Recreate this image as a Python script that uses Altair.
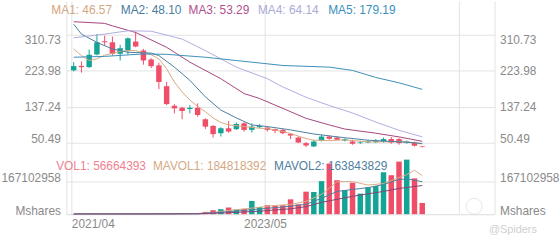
import altair as alt
import pandas as pd

# ---------------- data ----------------
idx = list(range(46))
opens = [225.2, 236.0, 233.1, 263.7, 295.6, 293.2, 265.3, 273.3, 294.9, 273.3,
         251.6, 237.2, 186.8, 139.4, 134.6, 131.5, 134.6, 106.7, 90.6, 73.0,
         85.0, 82.7, 97.0, 81.0, 87.5, 86.5, 82.7, 81.0, 71.4, 62.5,
         49.0, 40.9, 54.6, 64.9, 62.5, 55.3, 52.9, 49.0, 50.5, 51.4,
         52.9, 58.7, 58.7, 50.5, 50.5, 40.9]
closes = [235.5, 233.0, 262.9, 293.2, 293.2, 265.3, 278.8, 302.8, 282.9, 249.2,
          235.5, 197.1, 143.5, 133.2, 126.7, 134.6, 117.0, 88.9, 70.7, 85.0,
          76.9, 95.4, 81.0, 89.0, 90.6, 81.0, 78.6, 73.0, 67.3, 50.5,
          43.3, 52.9, 64.9, 59.4, 57.0, 58.7, 47.4, 50.5, 52.9, 54.6,
          58.7, 50.5, 49.0, 52.9, 42.6, 39.4]
highs = [245.0, 246.8, 275.7, 313.4, 309.3, 306.9, 287.0, 305.0, 318.9, 277.4,
         254.8, 243.7, 197.1, 143.5, 137.0, 141.0, 145.2, 109.1, 93.0, 87.5,
         102.6, 98.6, 99.5, 97.0, 94.7, 89.0, 84.0, 83.4, 73.0, 64.9,
         51.4, 57.0, 69.0, 67.3, 64.9, 60.9, 57.0, 54.6, 57.0, 58.7,
         62.5, 63.5, 61.0, 55.3, 52.9, 41.7]
lows = [222.8, 219.7, 230.7, 261.3, 285.3, 261.3, 249.0, 263.0, 281.2, 238.9,
        230.7, 179.5, 141.1, 121.1, 106.7, 121.0, 113.0, 83.4, 62.5, 64.9,
        74.5, 81.0, 76.9, 74.5, 85.0, 76.9, 73.0, 70.7, 58.7, 49.0,
        39.4, 39.4, 52.9, 57.0, 55.3, 52.9, 45.0, 46.6, 49.0, 49.0,
        50.5, 47.4, 45.0, 47.4, 40.9, 38.5]
volumes = [0.8, 0.6, 1.0, 1.2, 0.8, 1.0, 0.9, 1.1, 1.3, 1.2,
           1.5, 2.0, 3.0, 2.5, 3.5, 3.0, 5.0, 11.5, 20.0, 25.0,
           33.6, 23.0, 27.0, 66.9, 36.0, 45.0, 41.8, 45.0, 75.0, 50.0,
           113.8, 112.0, 167.0, 256.0, 172.0, 122.0, 159.0, 104.0, 137.0, 142.0,
           212.0, 197.0, 266.0, 276.0, 181.0, 56.664393]  # millions of shares

# moving-average lines: (candle index, value)
ma1_pts = [(0, 277), (1, 261), (2, 249), (3, 253), (4, 262), (6, 271), (7, 273), (8, 273),
           (10, 263), (11, 253), (12, 229), (13, 197), (14, 173), (15, 153), (16, 138),
           (17, 125), (18, 110), (19, 99), (20, 93), (22, 89), (24, 85), (25, 84), (27, 77),
           (28, 72), (29, 66), (30, 60), (31, 56), (33, 55), (35, 57), (36, 55), (38, 52),
           (40, 52), (42, 53), (43, 52), (44, 50), (45, 46.57)]
ma2_pts = [(0, 337), (1, 313), (3, 293), (5, 277), (7, 269), (10, 267), (11, 261), (13, 233),
           (15, 201), (17, 161), (19, 129), (21, 110), (23, 93), (25, 89), (28, 81), (31, 71),
           (35, 62), (38, 56), (41, 53), (43, 51), (45, 48.10)]
ma3_pts = [(0, 343), (4, 339), (5, 333), (8, 317), (12, 281), (15, 245), (19, 205), (22, 169),
           (24, 157), (27, 133), (30, 109), (33, 93), (35, 83), (39, 73), (42, 64), (45, 53.29)]
ma4_pts = [(0, 304), (4, 313), (7, 321), (10, 320), (14, 301), (17, 273), (21, 233), (25, 205),
           (27, 185), (30, 160), (33, 140), (36, 122), (39, 100), (42, 80), (45, 64.14)]
ma5_pts = [(0, 257), (4, 259), (9, 265), (12, 264), (17, 257), (21, 249), (27, 237), (33, 233),
           (36, 225), (39, 208), (42, 195), (45, 179.19)]

mavol1_pts = [(0, 1), (10, 1.1), (12, 1.8), (14, 2.6), (16, 3.5), (18, 8.6), (20, 19), (22, 26),
              (24, 35), (26, 44), (28, 49), (30, 65), (32, 100), (33, 132), (34, 164), (36, 165),
              (38, 147), (40, 155), (42, 185), (43, 200), (44, 222), (45, 195)]
mavol2_pts = [(0, 1), (12, 1.3), (16, 2.5), (20, 12), (24, 26), (28, 40), (30, 50), (32, 80),
              (34, 115), (36, 125), (38, 134), (40, 150), (42, 176), (43, 178), (44, 172),
              (45, 163.8)]
mavol3_pts = [(0, 1), (16, 1.5), (20, 7), (24, 15), (28, 27), (30, 38), (32, 60), (34, 75),
              (36, 90), (38, 103), (40, 115), (42, 130), (44, 140), (45, 145)]

price_ticks = [50.49, 137.24, 223.98, 310.73]
vol_tick_values = [0, 167102958]
vol_tick_labels = ["Mshares", "167102958"]
x_tick_pos = [-0.3, 24.7, 49.7]
x_tick_labels = ["2021/04", "2023/05", ""]

ma_names = ["MA1", "MA2", "MA3", "MA4", "MA5"]
ma_last = ["46.57", "48.10", "53.29", "64.14", "179.19"]
vol_legend = [("VOL1", "56664393"), ("MAVOL1", "184818392"), ("MAVOL2", "163843829")]

# ---------------- styles / layout ----------------
RED = "#ef4d68"
GREEN = "#14a496"
MA_COLORS = ["#d8a982", "#4a7e9e", "#a6457e", "#adaee0", "#3b90b8"]
MA_TEXT = ["#d4a77f", "#4a7e9e", "#b0508f", "#a9abd8", "#3b90c0"]
MAVOL_COLORS = ["#d6ac86", "#4f7fa0", "#7f4677"]
VOL_TEXT = ["#ef8190", "#d4aa85", "#4f80a0"]
FONT = "Liberation Sans"
LABEL = "#8a8a8a"
GRID = "#e3e3e3"

PLOT_W, PLOT_H = 432, 215
LEFT, RIGHT = 64, 64
X_LO, X_HI = -0.3, 53.7
PX_PER_I = PLOT_W / (X_HI - X_LO)

# legend anchors in page pixels, converted to the x scale's units
MA_TEXT_PX = [43.3, 115, 185, 256.7, 329.3]
VOL_TEXT_PX = [48.3, 148.3, 273.3]


def px_to_i(px):
    return X_LO + (px - LEFT) / PX_PER_I


# one shared y scale: price pane on top, volume pane mapped into the bottom strip
P_LO, P_HI = -123.08, 393.08          # price domain over the full height
V_HI = 1078.9e6                        # volume that would reach the top edge
K = (P_HI - P_LO) / V_HI               # price units per share


def vol_to_y(v):
    return P_LO + v * K


# ---------------- frames ----------------
candles = pd.DataFrame({"i": idx, "open": opens, "close": closes, "high": highs,
                        "low": lows, "vol": [v * 1e6 for v in volumes]})
candles["dir"] = ["up" if c >= o else "down" for o, c in zip(opens, closes)]

# ---------------- axes ----------------
x_label_expr = " : ".join(
    [f"abs(datum.value - ({p})) < 0.01 ? '{l}'" for p, l in zip(x_tick_pos, x_tick_labels)]
) + " : ''"
x_enc = alt.X("i:Q", scale=alt.Scale(domain=[X_LO, X_HI], nice=False, zero=False),
              axis=alt.Axis(values=x_tick_pos, labelExpr=x_label_expr, title=None,
                            grid=True, gridColor=GRID, domainColor=GRID, ticks=False,
                            tickSize=0, labelPadding=4,
                            labelAlign={"condition": {"test": "datum.value < 0", "value": "left"},
                                        "value": "center"},
                            labelFont=FONT, labelFontSize=12, labelColor=LABEL))

y_tick_pos = price_ticks + [vol_to_y(v) for v in vol_tick_values]
y_tick_txt = [f"{p:.2f}" for p in price_ticks] + vol_tick_labels
y_label_expr = " : ".join(
    [f"abs(datum.value - ({p})) < 0.01 ? '{l}'" for p, l in zip(y_tick_pos, y_tick_txt)]
) + " : ''"
y_scale = alt.Scale(domain=[P_LO, P_HI], nice=False, zero=False)
baseline_cond = {"condition": [{"test": "datum.value > 300", "value": "top"},
                               {"test": "datum.value < 60", "value": "alphabetic"}],
                 "value": "middle"}


def y_axis(orient):
    return alt.Axis(orient=orient, values=y_tick_pos, labelExpr=y_label_expr, title=None,
                    grid=(orient == "left"), gridColor=GRID, domainColor=GRID,
                    ticks=False, tickSize=0, labelPadding=6 if orient == "left" else 5,
                    labelBaseline=baseline_cond, labelFont=FONT, labelFontSize=12,
                    labelColor=LABEL, minExtent=LEFT if orient == "left" else RIGHT,
                    maxExtent=LEFT if orient == "left" else RIGHT)


dir_color = alt.Color("dir:N", scale=alt.Scale(domain=["up", "down"], range=[GREEN, RED]),
                      legend=None)

base = alt.Chart(candles).transform_calculate(
    vy=f"{P_LO} + datum.vol * {K}", vb=f"{P_LO}"
)

wicks = base.mark_rule(strokeWidth=1).encode(
    x=x_enc,
    y=alt.Y("low:Q", scale=y_scale, axis=y_axis("left")),
    y2="high:Q",
    color=dir_color,
)
bodies = base.mark_bar(size=5.5).encode(
    x="i:Q", y=alt.Y("open:Q", scale=y_scale), y2="close:Q", color=dir_color,
)
vol_bars = base.mark_bar(size=5.5).encode(
    x="i:Q", y=alt.Y("vy:Q", scale=y_scale), y2="vb:Q", color=dir_color,
)

layers = [wicks, bodies, vol_bars]
for pts, col in zip([ma1_pts, ma2_pts, ma3_pts, ma4_pts, ma5_pts], MA_COLORS):
    df = pd.DataFrame({"i": [p[0] for p in pts], "v": [p[1] for p in pts]})
    layers.append(alt.Chart(df).mark_line(strokeWidth=1, color=col).encode(
        x="i:Q", y=alt.Y("v:Q", scale=y_scale)))
for pts, col in zip([mavol1_pts, mavol2_pts, mavol3_pts], MAVOL_COLORS):
    df = pd.DataFrame({"i": [p[0] for p in pts], "v": [p[1] * 1e6 for p in pts]})
    layers.append(alt.Chart(df).transform_calculate(vy=f"{P_LO} + datum.v * {K}")
                  .mark_line(strokeWidth=1, color=col).encode(
        x="i:Q", y=alt.Y("vy:Q", scale=y_scale)))


def text_layer(txt, px, ypx, col, size=12, align="left"):
    df = pd.DataFrame({"t": [txt], "xi": [px_to_i(px)]})
    return alt.Chart(df).mark_text(
        align=align, baseline="middle", font=FONT, fontSize=size, color=col
    ).encode(x="xi:Q", y=alt.value(ypx), text="t:N")


# legends (text lines at the top of each pane)
for name, val, col, px in zip(ma_names, ma_last, MA_TEXT, MA_TEXT_PX):
    layers.append(text_layer(f"{name}: {val}", px, 9.5, col))
for (name, val), col, px in zip(vol_legend, VOL_TEXT, VOL_TEXT_PX):
    layers.append(text_layer(f"{name}: {val}", px, 166.5, col))

# watermark
logo_df = pd.DataFrame({"xi": [px_to_i(480)]})
layers.append(alt.Chart(logo_df).mark_point(
    shape="circle", filled=False, size=260, color="#dcdcdc", strokeWidth=1
).encode(x="xi:Q", y=alt.value(207)))
layers.append(text_layer("@Spiders", 520, 231, "#cfcfcf", size=11, align="center"))

main = alt.layer(*layers)

right_axis = alt.Chart(candles).mark_rule(opacity=0).encode(
    x="i:Q",
    y=alt.Y("close:Q", scale=y_scale, axis=y_axis("right")),
)

chart = alt.layer(main, right_axis).resolve_scale(y="independent").properties(
    width=PLOT_W, height=PLOT_H, padding=0, background="white",
).configure_view(stroke=None)

chart.save("out.html", embed_options={"renderer": "svg", "actions": False})
